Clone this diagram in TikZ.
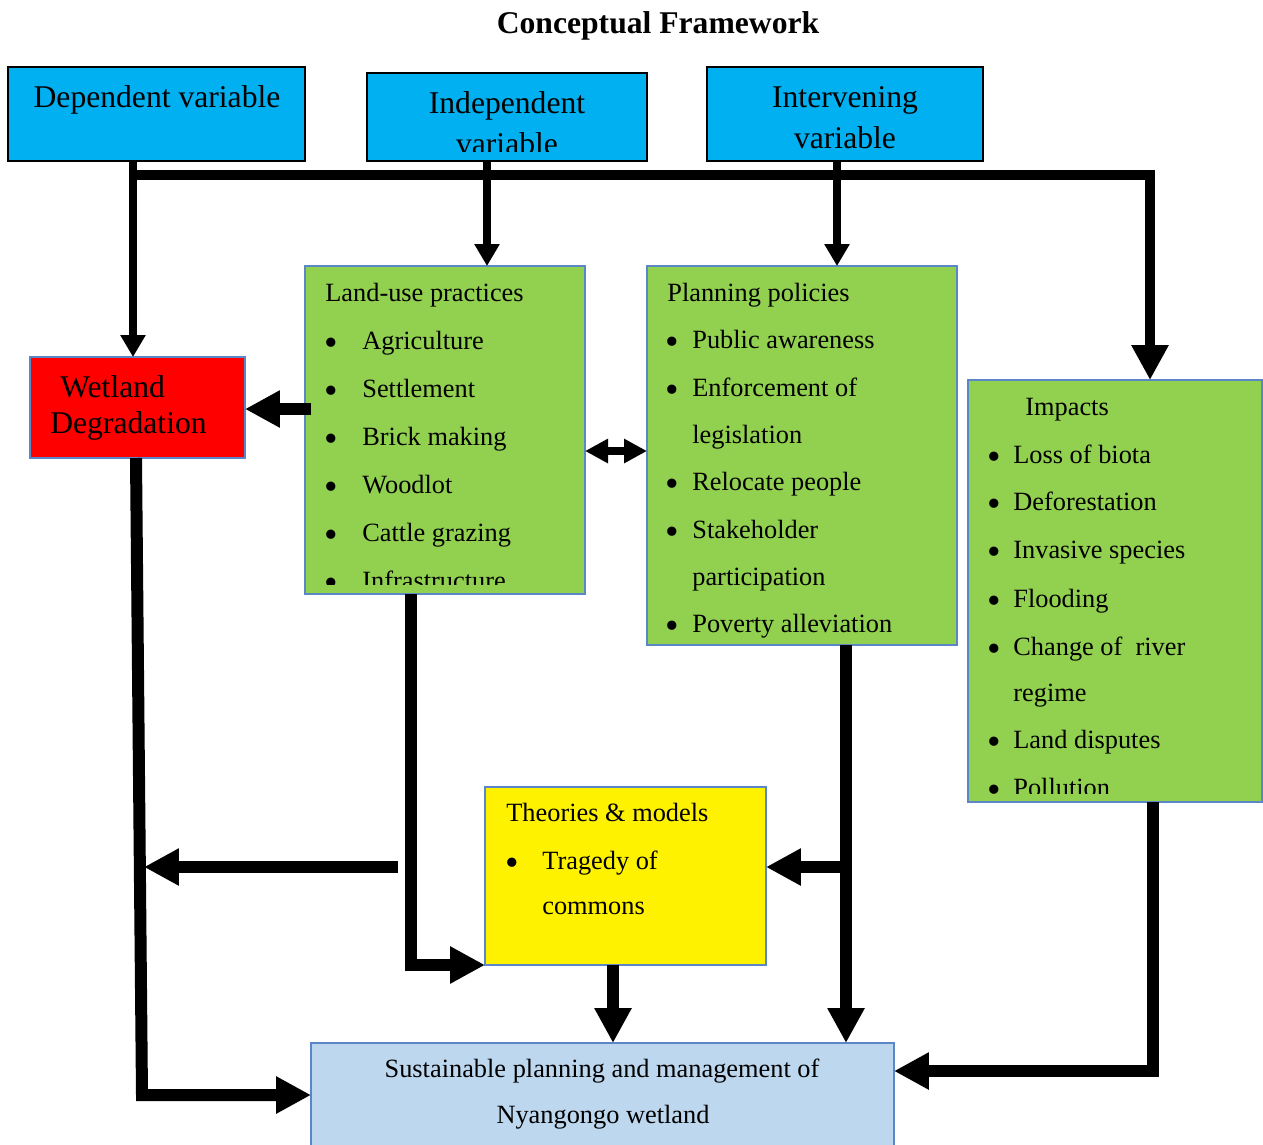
\documentclass[tikz,border=0pt]{standalone}
\usepackage{fontspec}
\setmainfont{Liberation Serif}
\usetikzlibrary{arrows.meta}

\definecolor{varblue}{HTML}{00B0F0}
\definecolor{leafgreen}{HTML}{92D050}
\definecolor{edgeblue}{HTML}{5B86C8}
\definecolor{goalblue}{HTML}{BDD7EE}

\tikzstyle{box} = [draw, inner sep=0pt, outer sep=0pt]
\tikzstyle{hdr} = [box, fill=varblue, draw=black, line width=0.8pt]
\tikzstyle{pane} = [box, draw=edgeblue, line width=1pt]
\tikzstyle{hdrtxt} = [font=\fontsize{18}{20}\selectfont, anchor=base, inner sep=0pt]
\tikzstyle{txt} = [font=\fontsize{15}{18}\selectfont, anchor=base west, inner sep=0pt]
\tikzstyle{dot} = [font=\fontsize{22}{22}\selectfont, anchor=base west, inner sep=0pt, yshift=-0.11cm]
\tikzstyle{bigarrow} = [line width=0.24cm, -{Triangle[length=0.7cm,width=0.7cm]}]
\tikzstyle{smallarrow} = [line width=0.15cm, -{Triangle[length=0.44cm,width=0.48cm]}]
\tikzstyle{dblarrow} = [line width=0.16cm,
  {Triangle[length=0.46cm,width=0.46cm]}-{Triangle[length=0.46cm,width=0.46cm]}]

\begin{document}
\begin{tikzpicture}[x=0.02cm, y=-0.02cm]
  \clip (0,0) rectangle (1263,1144);
  \node[font=\fontsize{18}{20}\selectfont\bfseries, anchor=base, inner sep=0pt]
    (title) at (658,33) {Conceptual Framework};

  % variable boxes
  \node[hdr, minimum width=5.94cm, minimum height=1.88cm] (dep) at (156.5,114) {};
  \node[hdr, minimum width=5.6cm, minimum height=1.76cm] (indep) at (507,117) {};
  \node[hdr, minimum width=5.52cm, minimum height=1.88cm] (interv) at (845,114) {};
  \node[hdrtxt] (deptxt) at (157,107) {Dependent variable};
  \node[hdrtxt] (indeptxt) at (507,113) {Independent};
  \begin{scope}
    \clip (367,73) rectangle (647,151);
    \node[hdrtxt] (indeptxtb) at (507,154) {variable};
  \end{scope}
  \node[hdrtxt] (intervtxt) at (845,107) {Intervening};
  \node[hdrtxt] (intervtxtb) at (845,148) {variable};

  % wetland degradation
  \node[pane, fill=red, minimum width=4.3cm, minimum height=2.02cm] (wet) at (137.5,407.5) {};
  \node[hdrtxt, anchor=base west] (wettxt) at (60,397) {Wetland};
  \node[hdrtxt, anchor=base west] (wettxtb) at (50,433) {Degradation};

  % land-use practices
  \node[pane, fill=leafgreen, minimum width=5.6cm, minimum height=6.56cm] (land) at (445,430) {};
  \begin{scope}
    \clip (305,266) rectangle (585,584);
    \node[txt] (landhd) at (325,301) {Land-use practices};
    \node[dot] (landd1) at (324,350) {\textbullet};
    \node[txt] (land1) at (362,349) {Agriculture};
    \node[dot] (landd2) at (324,398) {\textbullet};
    \node[txt] (land2) at (362,397) {Settlement};
    \node[dot] (landd3) at (324,446) {\textbullet};
    \node[txt] (land3) at (362,445) {Brick making};
    \node[dot] (landd4) at (324,494) {\textbullet};
    \node[txt] (land4) at (362,493) {Woodlot};
    \node[dot] (landd5) at (324,542) {\textbullet};
    \node[txt] (land5) at (362,541) {Cattle grazing};
    \node[dot] (landd6) at (324,590) {\textbullet};
    \node[txt] (land6) at (362,589) {Infrastructure};
  \end{scope}

  % planning policies
  \node[pane, fill=leafgreen, minimum width=6.2cm, minimum height=7.58cm] (plan) at (802,455.5) {};
  \begin{scope}
    \clip (647,266) rectangle (957,637);
    \node[txt] (planhd) at (667,301) {Planning policies};
    \node[dot] (pland1) at (665,349) {\textbullet};
    \node[txt] (plan1) at (692,348) {Public awareness};
    \node[dot] (pland2) at (665,397) {\textbullet};
    \node[txt] (plan2) at (692,396) {Enforcement of};
    \node[txt] (plan2b) at (692,443) {legislation};
    \node[dot] (pland3) at (665,491) {\textbullet};
    \node[txt] (plan3) at (692,490) {Relocate people};
    \node[dot] (pland4) at (665,539) {\textbullet};
    \node[txt] (plan4) at (692,538) {Stakeholder};
    \node[txt] (plan4b) at (692,585) {participation};
    \node[dot] (pland5) at (665,633) {\textbullet};
    \node[txt] (plan5) at (692,632) {Poverty alleviation};
  \end{scope}

  % impacts
  \node[pane, fill=leafgreen, minimum width=5.88cm, minimum height=8.44cm] (imp) at (1115,591) {};
  \begin{scope}
    \clip (968,380) rectangle (1262,793);
    \node[txt] (imphd) at (1025,415) {Impacts};
    \node[dot] (impd1) at (987,464) {\textbullet};
    \node[txt] (imp1) at (1013,463) {Loss of biota};
    \node[dot] (impd2) at (987,511) {\textbullet};
    \node[txt] (imp2) at (1013,510) {Deforestation};
    \node[dot] (impd3) at (987,559) {\textbullet};
    \node[txt] (imp3) at (1013,558) {Invasive species};
    \node[dot] (impd4) at (987,608) {\textbullet};
    \node[txt] (imp4) at (1013,607) {Flooding};
    \node[dot] (impd5) at (987,656) {\textbullet};
    \node[txt] (imp5) at (1013,655) {Change of~ river};
    \node[txt] (imp5b) at (1013,701) {regime};
    \node[dot] (impd6) at (987,749) {\textbullet};
    \node[txt] (imp6) at (1013,748) {Land disputes};
    \node[dot] (impd7) at (987,797) {\textbullet};
    \node[txt] (imp7) at (1013,796) {Pollution};
  \end{scope}

  % theories and models
  \node[pane, fill=yellow, minimum width=5.62cm, minimum height=3.56cm] (theo) at (625.5,876) {};
  \node[txt] (theohd) at (506,821) {Theories \& models};
  \node[dot] (theod1) at (505,870) {\textbullet};
  \node[txt] (theo1) at (542,869) {Tragedy of};
  \node[txt] (theo1b) at (542,914) {commons};

  % sustainable planning
  \node[pane, fill=goalblue, minimum width=11.66cm, minimum height=2.14cm] (sust) at (602.5,1096.5) {};
  \node[txt, anchor=base] (susttxt) at (602,1077) {Sustainable planning and management of};
  \node[txt, anchor=base] (susttxtb) at (603,1123) {Nyangongo wetland};

  % connectors
  \coordinate (d1) at (133,161);
  \coordinate (d2) at (487,161);
  \coordinate (d3) at (837,161);
  \draw[smallarrow] (d1) -- (d1 |- wet.north);
  \draw[smallarrow] (d2) -- (d2 |- land.north);
  \draw[smallarrow] (d3) -- (d3 |- plan.north);
  \draw[line width=0.21cm, -{Triangle[length=0.7cm,width=0.7cm]}]
    (133,175) -- (1150,175) -- (1150,0 |- imp.north);

  \coordinate (lw) at (311,409);
  \draw[bigarrow] (lw) -- (lw -| wet.east);
  \coordinate (lp) at (585,451);
  \draw[dblarrow] (lp) -- (lp -| plan.west);

  \coordinate (w1) at (136,458);
  \coordinate (w2) at (142,1095);
  \draw[bigarrow] (w1) -- (w2) -- (w2 -| sust.west);
  \coordinate (t1) at (398,867);
  \coordinate (w3) at (144,867);
  \draw[bigarrow] (t1) -- (w3);

  \coordinate (l1) at (411,594);
  \draw[bigarrow] (l1) -- (l1 |- theo.south) -- (theo.south west);
  \coordinate (p1) at (846,645);
  \draw[bigarrow] (p1) -- (p1 |- sust.north);
  \coordinate (p2) at (841,867);
  \draw[bigarrow] (p2) -- (p2 -| theo.east);
  \coordinate (t2) at (613,965);
  \draw[bigarrow] (t2) -- (t2 |- sust.north);
  \coordinate (i1) at (1153,802);
  \coordinate (i2) at (1153,1071);
  \draw[bigarrow] (i1) -- (i2) -- (i2 -| sust.east);
\end{tikzpicture}
\end{document}
